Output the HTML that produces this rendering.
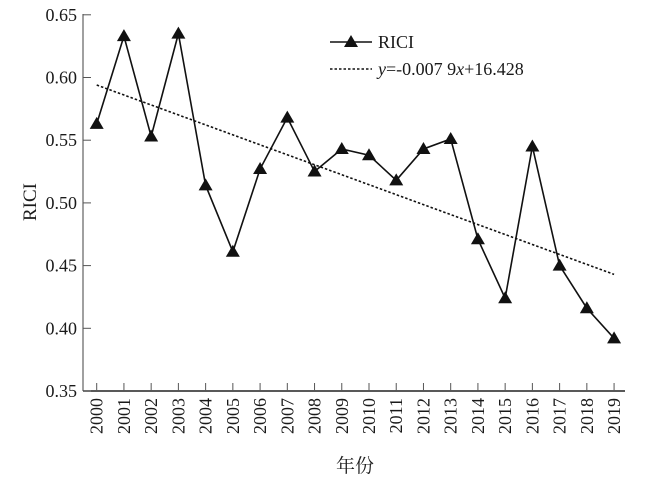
<!DOCTYPE html>
<html><head><meta charset="utf-8"><style>
body{margin:0;background:#fff}
text{font-family:"Liberation Serif","Noto Serif CJK SC",serif;fill:#1a1a1a}
</style></head><body>
<svg width="650" height="481" id="c">
<g id="axes"></g>
<g id="marks"></g>
<text x="36" y="202" font-size="19" text-anchor="middle" transform="rotate(-90 36 202)">RICI</text>
<text x="355" y="472" font-size="19" text-anchor="middle">年份</text>
<g>
<line x1="330" y1="42" x2="372" y2="42" stroke="#111" stroke-width="1.6"/>
<polygon points="351,35 358,47 344,47" fill="#111"/>
<text x="378" y="48" font-size="18">RICI</text>
<line x1="330" y1="69" x2="372" y2="69" stroke="#111" stroke-width="1.6" stroke-dasharray="2.5,2"/>
<text x="378" y="75" font-size="18"><tspan font-style="italic">y</tspan>=-0.007 9<tspan font-style="italic">x</tspan>+16.428</text>
</g>
</svg>
<script>
const years=[2000,2001,2002,2003,2004,2005,2006,2007,2008,2009,2010,2011,2012,2013,2014,2015,2016,2017,2018,2019];
const rici=[0.563,0.633,0.553,0.635,0.514,0.461,0.527,0.568,0.525,0.543,0.538,0.518,0.543,0.551,0.471,0.424,0.545,0.450,0.416,0.392];
const trendStart=0.594, trendEnd=0.443;
const yTicks=[0.35,0.40,0.45,0.50,0.55,0.60,0.65];
const NS="http://www.w3.org/2000/svg";
const X0=83, XR=625, YB=391;
function sx(i){return 96.7+i*27.23;}
function sy(v){return 391-(v-0.35)/0.05*62.7;}
function mk(t,a,p){const e=document.createElementNS(NS,t);for(const k in a)e.setAttribute(k,a[k]);p.appendChild(e);return e;}
const ax=document.getElementById('axes'), mg=document.getElementById('marks');
const yl=mk('line',{x1:X0,y1:14,x2:X0,y2:YB,stroke:'#777','stroke-width':1.4},ax);


const xl=mk('line',{x1:X0,y1:YB,x2:XR,y2:YB,stroke:'#222','stroke-width':1.4},ax);


yTicks.forEach(v=>{
 mk('line',{x1:X0,y1:sy(v),x2:X0+8,y2:sy(v),stroke:'#555','stroke-width':1},ax);
 const t=mk('text',{x:X0-6,y:sy(v)+6,'font-size':18,'text-anchor':'end'},ax);
 t.textContent=v.toFixed(2);
 
 
});
years.forEach((y,i)=>{
 const x=sx(i);
 mk('line',{x1:x,y1:YB,x2:x,y2:YB-8,stroke:'#555','stroke-width':1},ax);
 const t=mk('text',{x:x+6,y:398,'font-size':18,'text-anchor':'end',transform:`rotate(-90 ${x+6} 398)`},ax);
 t.textContent=y;
 
 
});
const tr=mk('line',{x1:sx(0),y1:sy(trendStart),x2:sx(years.length-1),y2:sy(trendEnd),stroke:'#111','stroke-width':1.6,'stroke-dasharray':'2.5,2'},mg);


const pl=mk('polyline',{points:rici.map((v,i)=>sx(i)+','+sy(v)).join(' '),fill:'none',stroke:'#111','stroke-width':1.6},mg);


rici.forEach((v,i)=>{
 const x=sx(i),y=sy(v);
 const p=mk('polygon',{points:`${x},${y-7} ${x+7},${y+5} ${x-7},${y+5}`,fill:'#111'},mg);
 
 
});
</script>
</body></html>
